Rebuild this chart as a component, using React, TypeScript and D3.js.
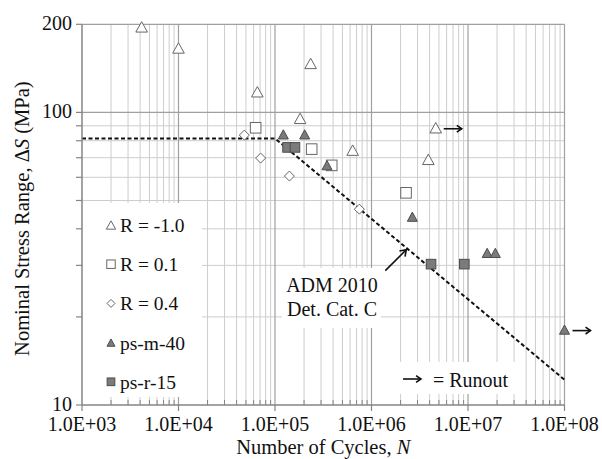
import React from "react";
import * as d3 from "d3";

// fatigue data (N = cycles, S = stress range in MPa)
const rNeg10N = [4.15e3, 1.0e4, 6.56e4, 1.82e5, 2.34e5, 6.38e5, 3.88e6, 4.63e6];
const rNeg10S = [196, 166, 117.6, 95.4, 147, 74.3, 69.1, 88.6];
const rNeg10Runout = [false, false, false, false, false, false, false, true];

const r01N = [6.3e4, 2.4e5, 3.87e5, 2.28e6];
const r01S = [88.6, 74.9, 65.9, 53.1];

const r04N = [4.81e4, 7.1e4, 1.41e5, 7.48e5];
const r04S = [83.6, 69.8, 60.6, 46.7];

const psm40N = [1.22e5, 2.03e5, 3.46e5, 2.65e6, 1.58e7, 1.92e7, 1.0e8];
const psm40S = [84.1, 84.1, 66.0, 44.0, 33.1, 33.1, 18.1];
const psm40Runout = [false, false, false, false, false, false, true];

const psr15N = [1.35e5, 1.61e5, 4.14e6, 9.16e6];
const psr15S = [75.9, 75.9, 30.3, 30.3];

// ADM 2010 detail category C design curve
const admN = [1e3, 1e5, 1e8];
const admS = [81.5, 81.5, 12.2];

const xTickValues = [1e3, 1e4, 1e5, 1e6, 1e7, 1e8];
const xTickLabels = ["1.0E+03", "1.0E+04", "1.0E+05", "1.0E+06", "1.0E+07", "1.0E+08"];
const yTickValues = [10, 100, 200];
const yTickLabels = ["10", "100", "200"];

const legendLabels = ["R = -1.0", "R = 0.1", "R = 0.4", "ps-m-40", "ps-r-15"];

const W = 602;
const H = 459;
const FONT = "Liberation Serif, Tinos, Times New Roman, DejaVu Serif, serif";

const x = d3.scaleLog().domain([1e3, 1e8]).range([82, 564.5]);
const y = d3.scaleLog().domain([10, 200]).range([405, 24.3]);

const GRID_MAJOR = "#a0a0a0";
const GRID_MINOR = "#cdcdcd";
const AXIS = "#858585";
const OPEN_STROKE = "#666";
const FILL = "#7b7b7b";
const FILL_STROKE = "#4d4d4d";

function Marker({ kind, cx, cy, s = 1 }: { kind: string; cx: number; cy: number; s?: number }) {
  if (kind === "tri") {
    const w = 5.8 * s, h = 5.2 * s;
    return <path d={`M${cx},${cy - h}L${cx + w},${cy + h}L${cx - w},${cy + h}Z`} fill="#fff" stroke={OPEN_STROKE} strokeWidth={1} />;
  }
  if (kind === "sq") {
    const a = 5.3 * s;
    return <rect x={cx - a} y={cy - a} width={2 * a} height={2 * a} fill="#fff" stroke={OPEN_STROKE} strokeWidth={1} />;
  }
  if (kind === "dia") {
    const a = 5 * s;
    return <path d={`M${cx},${cy - a}L${cx + a},${cy}L${cx},${cy + a}L${cx - a},${cy}Z`} fill="#fff" stroke={OPEN_STROKE} strokeWidth={1} />;
  }
  if (kind === "ftri") {
    const w = 5 * s, h = 4.6 * s;
    return <path d={`M${cx},${cy - h}L${cx + w},${cy + h}L${cx - w},${cy + h}Z`} fill={FILL} stroke={FILL_STROKE} strokeWidth={1} />;
  }
  const a = 4.8 * s;
  return <rect x={cx - a} y={cy - a} width={2 * a} height={2 * a} fill={FILL} stroke={FILL_STROKE} strokeWidth={1} />;
}

function Arrow({ x1, y1, x2, y2, head = 6 }: { x1: number; y1: number; x2: number; y2: number; head?: number }) {
  const ang = Math.atan2(y2 - y1, x2 - x1);
  const a1 = ang + Math.PI - 0.6;
  const a2 = ang + Math.PI + 0.6;
  return (
    <g stroke="#111" strokeWidth={1.6} fill="none">
      <line x1={x1} y1={y1} x2={x2} y2={y2} />
      <path d={`M${x2 + head * Math.cos(a1)},${y2 + head * Math.sin(a1)}L${x2},${y2}L${x2 + head * Math.cos(a2)},${y2 + head * Math.sin(a2)}`} />
    </g>
  );
}

export default function App() {
  const [x0, x1] = x.range();
  const [y0, y1] = y.range();

  const minorX: number[] = [];
  for (let d = 1e3; d < 1e8; d *= 10) for (let k = 2; k <= 9; k++) minorX.push(d * k);
  const minorY = [20, 30, 40, 50, 60, 70, 80, 90];

  const series = [
    { kind: "tri", n: rNeg10N, s: rNeg10S, run: rNeg10Runout },
    { kind: "sq", n: r01N, s: r01S, run: [] as boolean[] },
    { kind: "dia", n: r04N, s: r04S, run: [] as boolean[] },
    { kind: "ftri", n: psm40N, s: psm40S, run: psm40Runout },
    { kind: "fsq", n: psr15N, s: psr15S, run: [] as boolean[] },
  ];

  const admLine = d3
    .line<number>()
    .x((_, i) => x(admN[i]))
    .y((_, i) => y(admS[i]));

  // point on the design curve where the annotation arrow ends
  const tipN = 2.35e6;
  const tipS = admS[1] * Math.pow(tipN / admN[1], Math.log(admS[2] / admS[1]) / Math.log(admN[2] / admN[1]));
  const tipX = x(tipN);
  const tipY = y(tipS);

  const txt = { fontFamily: FONT, fill: "#111" };

  return (
    <svg width={W} height={H} style={{ position: "absolute", left: 0, top: 0, background: "#fff", fontFamily: FONT }}>
      {/* grid */}
      {minorX.map((v, i) => (
        <line key={"mx" + i} x1={x(v)} x2={x(v)} y1={y1} y2={y0} stroke={GRID_MINOR} strokeWidth={1} />
      ))}
      {minorY.map((v, i) => (
        <line key={"my" + i} x1={x0} x2={x1} y1={y(v)} y2={y(v)} stroke={GRID_MINOR} strokeWidth={1} />
      ))}
      {xTickValues.slice(1).map((v, i) => (
        <line key={"Mx" + i} x1={x(v)} x2={x(v)} y1={y1} y2={y0} stroke={GRID_MAJOR} strokeWidth={1.2} />
      ))}
      {[100, 200].map((v, i) => (
        <line key={"My" + i} x1={x0} x2={x1} y1={y(v)} y2={y(v)} stroke={GRID_MAJOR} strokeWidth={1.2} />
      ))}

      {/* white boxes behind legend and labels */}
      <rect x={83} y={203} width={119} height={194} fill="#fff" />
      <rect x={282} y={268} width={99} height={60} fill="#fff" />
      <rect x={396} y={362} width={120} height={32} fill="#fff" />

      {/* design curve */}
      <path d={admLine(admN) || ""} fill="none" stroke="#111" strokeWidth={2} strokeDasharray="4,2.5" />

      {/* data */}
      {series.map((sr, si) => (
        <g key={"s" + si}>
          {sr.n.map((n, i) => (
            <Marker key={i} kind={sr.kind} cx={x(n)} cy={y(sr.s[i])} />
          ))}
          {sr.n.map((n, i) =>
            sr.run[i] ? <Arrow key={"r" + i} x1={x(n) + 8} y1={y(sr.s[i]) + 1} x2={x(n) + 26} y2={y(sr.s[i]) + 1} /> : null
          )}
        </g>
      ))}

      {/* axes */}
      <line x1={x0} x2={x0} y1={y1} y2={y0} stroke={AXIS} strokeWidth={1.5} />
      <line x1={x0} x2={x1} y1={y0} y2={y0} stroke={AXIS} strokeWidth={1.5} />
      {xTickValues.map((v, i) => (
        <line key={"xt" + i} x1={x(v)} x2={x(v)} y1={y0} y2={y0 + 6} stroke={AXIS} strokeWidth={1.2} />
      ))}
      {minorX.map((v, i) => (
        <line key={"xmt" + i} x1={x(v)} x2={x(v)} y1={y0 - 5} y2={y0} stroke={AXIS} strokeWidth={1} />
      ))}
      {[...yTickValues, ...minorY].map((v, i) => (
        <line key={"yt" + i} x1={x0 - 6} x2={x0} y1={y(v)} y2={y(v)} stroke={AXIS} strokeWidth={1.2} />
      ))}

      {/* tick labels */}
      {xTickValues.map((v, i) => (
        <text key={"xl" + i} x={x(v)} y={431} textAnchor="middle" fontSize={20} style={txt}>
          {xTickLabels[i]}
        </text>
      ))}
      {yTickValues.map((v, i) => (
        <text key={"yl" + i} x={72} y={y(v) + 6} textAnchor="end" fontSize={20} style={txt}>
          {yTickLabels[i]}
        </text>
      ))}

      {/* axis titles */}
      <text x={(x0 + x1) / 2} y={454} textAnchor="middle" fontSize={20.5} style={txt}>
        Number of Cycles, <tspan fontStyle="italic">N</tspan>
      </text>
      <text transform={`translate(29,${(y0 + y1) / 2 + 4}) rotate(-90)`} textAnchor="middle" fontSize={20.5} style={txt}>
        Nominal Stress Range, Δ<tspan fontStyle="italic">S</tspan> (MPa)
      </text>

      {/* legend */}
      {legendLabels.map((lab, i) => {
        const cy = 225 + i * 39.2;
        return (
          <g key={"lg" + i}>
            <Marker kind={series[i].kind} cx={111} cy={cy} s={0.8} />
            <text x={120} y={cy + 7} fontSize={19.5} style={txt}>
              {lab}
            </text>
          </g>
        );
      })}

      {/* annotation */}
      <text x={332} y={292} textAnchor="middle" fontSize={20} style={txt}>
        ADM 2010
      </text>
      <text x={332} y={316} textAnchor="middle" fontSize={20} style={txt}>
        Det. Cat. C
      </text>
      <Arrow x1={tipX - 22} y1={tipY + 22} x2={tipX - 1} y2={tipY + 1} head={7} />

      <Arrow x1={403} y1={379} x2={421} y2={379} />
      <text x={433} y={386.5} fontSize={20} style={txt}>
        = Runout
      </text>
    </svg>
  );
}
